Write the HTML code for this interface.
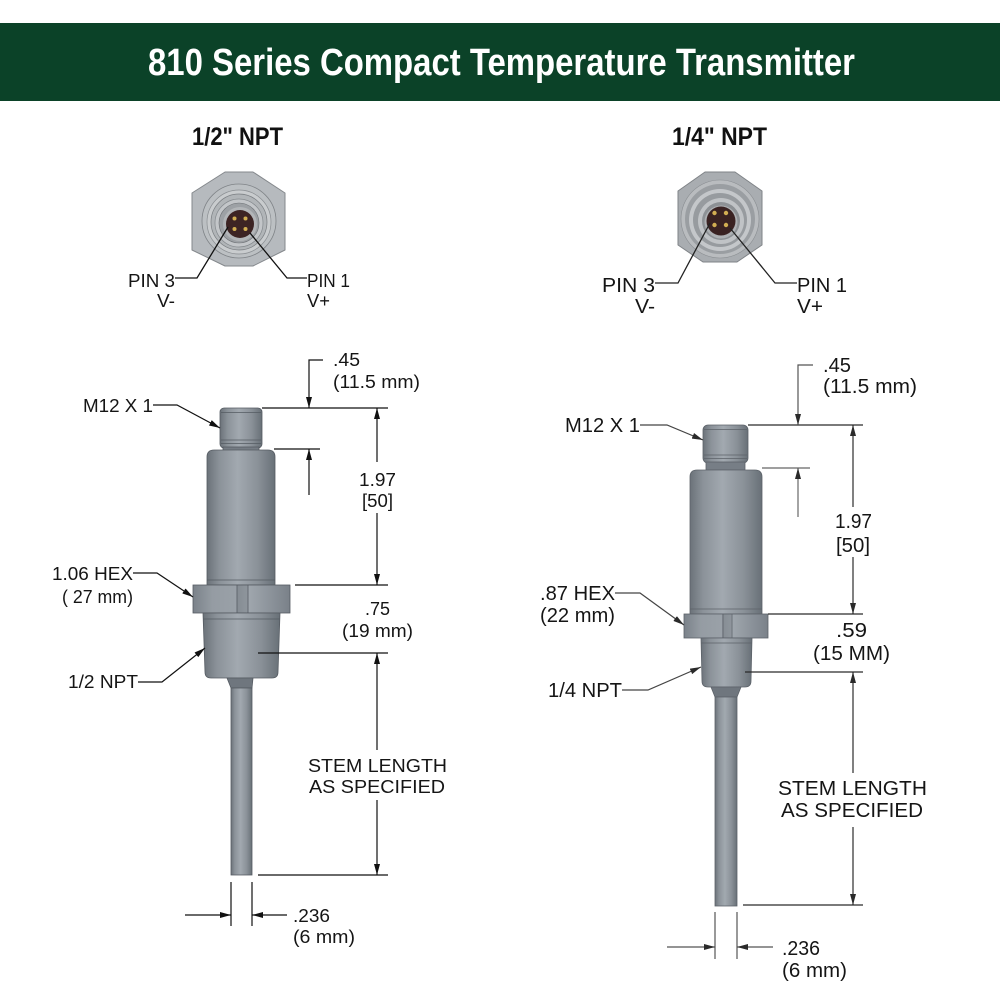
<!DOCTYPE html>
<html>
<head>
<meta charset="utf-8">
<style>
html,body{margin:0;padding:0;background:#fff;}
svg{display:block;}
text{font-family:"Liberation Sans",Arial,sans-serif;fill:#151515;}
.t18{font-size:18px;}
.t20{font-size:20px;}
.ttl{font-weight:bold;font-size:25px;fill:#111;}
</style>
</head>
<body>
<svg width="1000" height="1000" viewBox="0 0 1000 1000" xmlns="http://www.w3.org/2000/svg">
<defs>
  <linearGradient id="cyl" x1="0" x2="1" y1="0" y2="0">
    <stop offset="0" stop-color="#6b7279"/>
    <stop offset="0.18" stop-color="#8b9299"/>
    <stop offset="0.45" stop-color="#a2a9b0"/>
    <stop offset="0.75" stop-color="#8a9198"/>
    <stop offset="1" stop-color="#687077"/>
  </linearGradient>
  <linearGradient id="hexg" x1="0" x2="1" y1="0" y2="0">
    <stop offset="0" stop-color="#7b828a"/>
    <stop offset="0.2" stop-color="#959ca3"/>
    <stop offset="0.45" stop-color="#9aa1a8"/>
    <stop offset="0.46" stop-color="#868d94"/>
    <stop offset="0.56" stop-color="#8e959c"/>
    <stop offset="0.57" stop-color="#a0a7ae"/>
    <stop offset="1" stop-color="#7a8189"/>
  </linearGradient>
  <marker id="ar" viewBox="0 0 11 6" refX="11" refY="3" markerWidth="11" markerHeight="6" markerUnits="userSpaceOnUse" orient="auto">
    <path d="M0,0 L11,3 L0,6 Z" fill="#111"/>
  </marker>
  <marker id="ag" viewBox="0 0 11 6" refX="11" refY="3" markerWidth="11" markerHeight="6" markerUnits="userSpaceOnUse" orient="auto">
    <path d="M0,0 L11,3 L0,6 Z" fill="#2a2a2a"/>
  </marker>
</defs>

<rect width="1000" height="1000" fill="#fff"/>

<!-- Header -->
<rect x="0" y="23" width="1000" height="78" fill="#0b4228"/>
<text x="148" y="75" font-size="38" font-weight="bold" style="fill:#fff" textLength="707" lengthAdjust="spacingAndGlyphs">810 Series Compact Temperature Transmitter</text>

<!-- Section titles -->
<text class="ttl" x="192" y="145" textLength="91" lengthAdjust="spacingAndGlyphs">1/2" NPT</text>
<text class="ttl" x="672" y="145" textLength="95" lengthAdjust="spacingAndGlyphs">1/4" NPT</text>

<!-- Left hex end view -->
<polygon points="225,172 253,172 285,193 285,250 253,266 225,266 192,250 192,193" fill="#b6babe" stroke="#84888c" stroke-width="1" stroke-linejoin="round"/>
<circle cx="239" cy="221" r="37" fill="#bcc0c3" stroke="#7f8387" stroke-width="0.8"/>
<circle cx="239" cy="222" r="32" fill="#c9ccce" stroke="#8a8e92" stroke-width="0.7"/>
<circle cx="239" cy="222" r="28" fill="#b1b5b8" stroke="#7a7e82" stroke-width="0.7"/>
<circle cx="239" cy="223" r="24" fill="#c3c6c9" stroke="#858a8e" stroke-width="0.7"/>
<circle cx="239" cy="223" r="20" fill="#9da1a5" stroke="#6f7377" stroke-width="0.6"/>
<circle cx="240" cy="224" r="17" fill="#b3b6b9"/>
<circle cx="240" cy="224" r="14" fill="#3d2424"/>
<circle cx="234.5" cy="218.5" r="2" fill="#d2ae52"/>
<circle cx="245.5" cy="218.5" r="2" fill="#d2ae52"/>
<circle cx="234.5" cy="229" r="2" fill="#d2ae52"/>
<circle cx="245.5" cy="229" r="2" fill="#d2ae52"/>
<polyline points="175,278 197,278 228,227" fill="none" stroke="#111" stroke-width="1.3"/>
<polyline points="307,278 287,278 250,233" fill="none" stroke="#111" stroke-width="1.3"/>
<text class="t18" x="128" y="287" textLength="47" lengthAdjust="spacingAndGlyphs">PIN 3</text>
<text class="t18" x="157" y="307" textLength="18" lengthAdjust="spacingAndGlyphs">V-</text>
<text class="t18" x="307" y="287" textLength="43" lengthAdjust="spacingAndGlyphs">PIN 1</text>
<text class="t18" x="307" y="307" textLength="23" lengthAdjust="spacingAndGlyphs">V+</text>

<!-- Right hex end view -->
<polygon points="705,172 735,172 762,191 762,245 737,262 703,262 678,245 678,191" fill="#a9adb1" stroke="#7f8387" stroke-width="1" stroke-linejoin="round"/>
<circle cx="720" cy="219" r="39" fill="#b9bcbf" stroke="#8a8e92" stroke-width="0.6"/>
<circle cx="720" cy="219" r="35" fill="#9a9ea2"/>
<circle cx="720" cy="220" r="31" fill="#c4c7ca"/>
<circle cx="720" cy="220" r="27" fill="#979b9f"/>
<circle cx="721" cy="221" r="23" fill="#c0c3c6"/>
<circle cx="721" cy="221" r="19" fill="#8d9195"/>
<circle cx="721" cy="222" r="16.5" fill="#aeb1b4"/>
<circle cx="721" cy="221" r="14.5" fill="#3a2222"/>
<circle cx="714.5" cy="213" r="2.2" fill="#d2ae52"/>
<circle cx="726" cy="213" r="2.2" fill="#d2ae52"/>
<circle cx="714.5" cy="225" r="2.2" fill="#d2ae52"/>
<circle cx="726" cy="225" r="2.2" fill="#d2ae52"/>
<polyline points="655,283 678,283 710,223" fill="none" stroke="#222" stroke-width="1.3"/>
<polyline points="797,283 775,283 730,228" fill="none" stroke="#222" stroke-width="1.3"/>
<text class="t20" x="602" y="292" textLength="53" lengthAdjust="spacingAndGlyphs">PIN 3</text>
<text class="t20" x="635" y="313" textLength="20" lengthAdjust="spacingAndGlyphs">V-</text>
<text class="t20" x="797" y="292" textLength="50" lengthAdjust="spacingAndGlyphs">PIN 1</text>
<text class="t20" x="797" y="313" textLength="26" lengthAdjust="spacingAndGlyphs">V+</text>

<!-- ===== LEFT BODY ===== -->
<g stroke="#555b62" stroke-width="0.8">
  <rect x="220" y="408" width="42" height="40" rx="4" fill="url(#cyl)"/>
  <line x1="221" y1="412.5" x2="261" y2="412.5"/>
  <line x1="221" y1="440" x2="261" y2="440"/>
  <line x1="221" y1="443.5" x2="261" y2="443.5"/>
  <rect x="223" y="447" width="36" height="4" fill="#757c84"/>
  <path d="M207,457 Q207,450 214,450 L268,450 Q275,450 275,457 L275,585 L207,585 Z" fill="url(#cyl)"/>
  <line x1="207" y1="580" x2="275" y2="580"/>
  <rect x="193" y="585" width="97" height="28" fill="url(#hexg)"/>
  <line x1="237" y1="585" x2="237" y2="613"/>
  <line x1="248" y1="585" x2="248" y2="613"/>
  <path d="M203,613 L280,613 L278,672 Q278,678 272,678 L211,678 Q205,678 205,672 Z" fill="url(#cyl)"/>
  <line x1="203.5" y1="619" x2="279.5" y2="619"/>
  <path d="M227,678 L253,678 L252,688 L231,688 Z" fill="#6f767e"/>
  <rect x="231" y="688" width="21" height="187" fill="url(#cyl)"/>
</g>

<!-- Left dimensions -->
<g stroke="#111" stroke-width="1.2" fill="none">
  <line x1="262" y1="408" x2="388" y2="408"/>
  <line x1="274" y1="449" x2="320" y2="449"/>
  <line x1="295" y1="585" x2="388" y2="585"/>
  <line x1="258" y1="653" x2="388" y2="653"/>
  <line x1="258" y1="875" x2="388" y2="875"/>
  <line x1="231" y1="882" x2="231" y2="926"/>
  <line x1="252" y1="882" x2="252" y2="926"/>
  <line x1="377" y1="462" x2="377" y2="408" marker-end="url(#ar)"/>
  <line x1="377" y1="513" x2="377" y2="585" marker-end="url(#ar)"/>
  <line x1="377" y1="750" x2="377" y2="653" marker-end="url(#ar)"/>
  <line x1="377" y1="800" x2="377" y2="875" marker-end="url(#ar)"/>
  <polyline points="323,360 309,360 309,408" marker-end="url(#ar)"/>
  <line x1="309" y1="495" x2="309" y2="449" marker-end="url(#ar)"/>
  <line x1="185" y1="915" x2="231" y2="915" marker-end="url(#ar)"/>
  <line x1="287" y1="915" x2="252" y2="915" marker-end="url(#ar)"/>
  <polyline points="153,405 177,405 220,428" marker-end="url(#ar)"/>
  <polyline points="133,573 157,573 193,597" marker-end="url(#ar)"/>
  <polyline points="138,682 162,682 205,648" marker-end="url(#ar)"/>
</g>
<g>
  <text class="t18" x="83" y="412" textLength="70" lengthAdjust="spacingAndGlyphs">M12 X 1</text>
  <text class="t18" x="333" y="366" textLength="27" lengthAdjust="spacingAndGlyphs">.45</text>
  <text class="t18" x="333" y="388" textLength="87" lengthAdjust="spacingAndGlyphs">(11.5 mm)</text>
  <text class="t18" x="359" y="486" textLength="37" lengthAdjust="spacingAndGlyphs">1.97</text>
  <text class="t18" x="362" y="507" textLength="31" lengthAdjust="spacingAndGlyphs">[50]</text>
  <text class="t18" x="52" y="580" textLength="81" lengthAdjust="spacingAndGlyphs">1.06 HEX</text>
  <text class="t18" x="62" y="603" textLength="71" lengthAdjust="spacingAndGlyphs">( 27 mm)</text>
  <text class="t18" x="365" y="615" textLength="25" lengthAdjust="spacingAndGlyphs">.75</text>
  <text class="t18" x="342" y="637" textLength="71" lengthAdjust="spacingAndGlyphs">(19 mm)</text>
  <text class="t18" x="68" y="688" textLength="70" lengthAdjust="spacingAndGlyphs">1/2 NPT</text>
  <text class="t18" x="308" y="772" textLength="139" lengthAdjust="spacingAndGlyphs">STEM LENGTH</text>
  <text class="t18" x="309" y="793" textLength="136" lengthAdjust="spacingAndGlyphs">AS SPECIFIED</text>
  <text class="t18" x="293" y="922" textLength="37" lengthAdjust="spacingAndGlyphs">.236</text>
  <text class="t18" x="293" y="943" textLength="62" lengthAdjust="spacingAndGlyphs">(6 mm)</text>
</g>

<!-- ===== RIGHT BODY ===== -->
<g stroke="#5c6269" stroke-width="0.8">
  <rect x="703" y="425" width="45" height="38" rx="5" fill="url(#cyl)"/>
  <line x1="704" y1="429.5" x2="747" y2="429.5"/>
  <line x1="704" y1="455" x2="747" y2="455"/>
  <line x1="704" y1="458.5" x2="747" y2="458.5"/>
  <rect x="706" y="462" width="39" height="8" fill="#777e86"/>
  <path d="M690,477 Q690,470 697,470 L755,470 Q762,470 762,477 L762,614 L690,614 Z" fill="url(#cyl)"/>
  <line x1="690" y1="609" x2="762" y2="609"/>
  <rect x="684" y="614" width="84" height="24" fill="url(#hexg)"/>
  <line x1="723" y1="614" x2="723" y2="638"/>
  <line x1="732" y1="614" x2="732" y2="638"/>
  <path d="M701,638 L752,638 L751,681 Q751,687 745,687 L708,687 Q702,687 702,681 Z" fill="url(#cyl)"/>
  <line x1="701.5" y1="643" x2="751.5" y2="643"/>
  <path d="M711,687 L741,687 L737,697 L715,697 Z" fill="#6f767e"/>
  <rect x="715" y="697" width="22" height="209" fill="url(#cyl)"/>
</g>

<!-- Right dimensions -->
<g stroke="#2a2a2a" stroke-width="1.2" fill="none">
  <line x1="748" y1="425" x2="863" y2="425"/>
  <line x1="762" y1="468" x2="810" y2="468" stroke="#666"/>
  <line x1="768" y1="614" x2="863" y2="614"/>
  <line x1="745" y1="672" x2="863" y2="672"/>
  <line x1="743" y1="905" x2="863" y2="905"/>
  <line x1="715" y1="912" x2="715" y2="959" stroke="#555"/>
  <line x1="737" y1="912" x2="737" y2="959" stroke="#555"/>
  <line x1="853" y1="507" x2="853" y2="425" marker-end="url(#ag)"/>
  <line x1="853" y1="557" x2="853" y2="614" marker-end="url(#ag)"/>
  <line x1="853" y1="773" x2="853" y2="672" marker-end="url(#ag)"/>
  <line x1="853" y1="827" x2="853" y2="905" marker-end="url(#ag)"/>
  <polyline points="813,365 798,365 798,425" stroke="#555" marker-end="url(#ag)"/>
  <line x1="798" y1="517" x2="798" y2="468" stroke="#666" marker-end="url(#ag)"/>
  <line x1="667" y1="947" x2="715" y2="947" stroke="#555" marker-end="url(#ag)"/>
  <line x1="773" y1="947" x2="737" y2="947" stroke="#555" marker-end="url(#ag)"/>
  <polyline points="640,425 667,425 703,440" stroke="#444" marker-end="url(#ag)"/>
  <polyline points="615,593 640,593 684,625" stroke="#444" marker-end="url(#ag)"/>
  <polyline points="622,690 648,690 701,667" stroke="#444" marker-end="url(#ag)"/>
</g>
<g>
  <text class="t20" x="565" y="432" textLength="75" lengthAdjust="spacingAndGlyphs">M12 X 1</text>
  <text class="t20" x="823" y="372" textLength="28" lengthAdjust="spacingAndGlyphs">.45</text>
  <text class="t20" x="823" y="393" textLength="94" lengthAdjust="spacingAndGlyphs">(11.5 mm)</text>
  <text class="t20" x="835" y="528" textLength="37" lengthAdjust="spacingAndGlyphs">1.97</text>
  <text class="t20" x="836" y="552" textLength="34" lengthAdjust="spacingAndGlyphs">[50]</text>
  <text class="t20" x="540" y="600" textLength="75" lengthAdjust="spacingAndGlyphs">.87 HEX</text>
  <text class="t20" x="540" y="622" textLength="75" lengthAdjust="spacingAndGlyphs">(22 mm)</text>
  <text class="t20" x="836" y="637" textLength="31" lengthAdjust="spacingAndGlyphs">.59</text>
  <text class="t20" x="813" y="660" textLength="77" lengthAdjust="spacingAndGlyphs">(15 MM)</text>
  <text class="t20" x="548" y="697" textLength="74" lengthAdjust="spacingAndGlyphs">1/4 NPT</text>
  <text class="t20" x="778" y="795" textLength="149" lengthAdjust="spacingAndGlyphs">STEM LENGTH</text>
  <text class="t20" x="781" y="817" textLength="142" lengthAdjust="spacingAndGlyphs">AS SPECIFIED</text>
  <text class="t20" x="782" y="955" textLength="38" lengthAdjust="spacingAndGlyphs">.236</text>
  <text class="t20" x="782" y="977" textLength="65" lengthAdjust="spacingAndGlyphs">(6 mm)</text>
</g>
</svg>
</body>
</html>
